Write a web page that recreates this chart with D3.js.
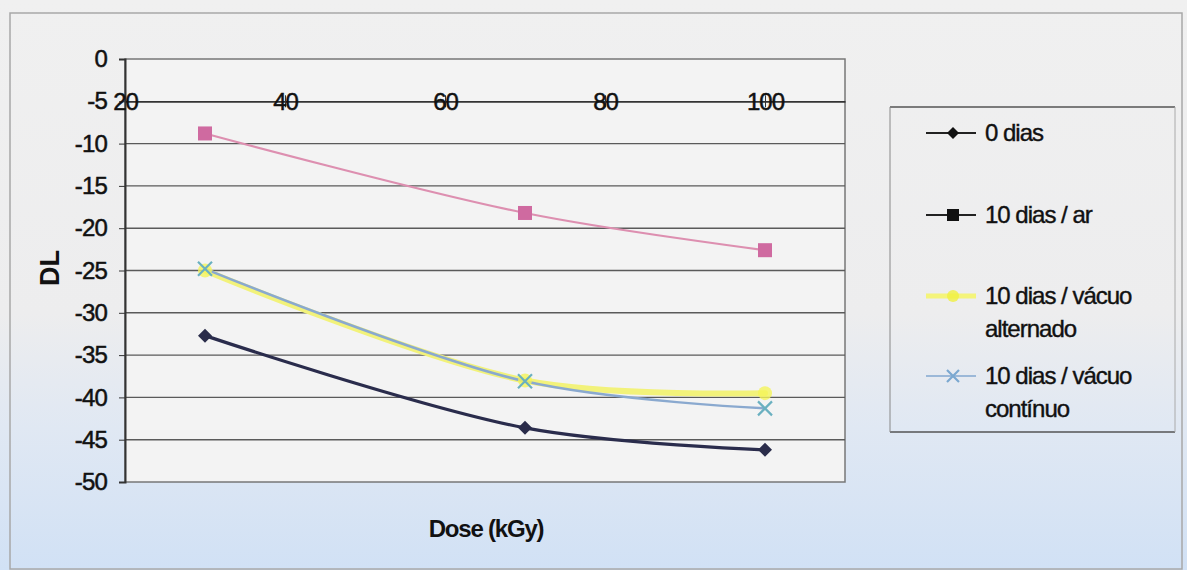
<!DOCTYPE html>
<html><head><meta charset="utf-8">
<script src="https://cdn.jsdelivr.net/npm/d3@7"></script>
<style>html,body{margin:0;padding:0;background:#efefef;}svg{display:block;font-family:"Liberation Sans",Arial,sans-serif;}</style>
</head><body>
<svg id="c" width="1187" height="570"></svg>
<script>
const doses = [30, 70, 100];
const dias0 = [-32.7, -43.6, -46.2];
const diasAr = [-8.8, -18.2, -22.6];
const vacuoAlternado = [-25.0, -38.0, -39.5];
const vacuoContinuo = [-24.8, -38.1, -41.3];
const seriesNames = ["0 dias", "10 dias / ar", "10 dias / vácuo alternado", "10 dias / vácuo contínuo"];
const xTicks = [20, 40, 60, 80, 100];
const yTicks = [0, -5, -10, -15, -20, -25, -30, -35, -40, -45, -50];

const svg = d3.select("#c");
const defs = svg.append("defs");
const g1 = defs.append("linearGradient").attr("id","bg").attr("x1",0).attr("y1",0).attr("x2",0).attr("y2",1);
g1.append("stop").attr("offset","0%").attr("stop-color","#f0f0f0");
g1.append("stop").attr("offset","55%").attr("stop-color","#ededee");
g1.append("stop").attr("offset","75%").attr("stop-color","#e0e8f3");
g1.append("stop").attr("offset","100%").attr("stop-color","#d1e1f5");
svg.append("rect").attr("width",1187).attr("height",570).attr("fill","url(#bg)");
svg.append("rect").attr("x",10).attr("y",13).attr("width",1172).attr("height",556)
  .attr("fill","none").attr("stroke","#a8a8a8").attr("stroke-width",1.5);

const x = d3.scaleLinear().domain([20, 110]).range([125, 845]);
const y = d3.scaleLinear().domain([-50, 0]).range([482, 59]);
const fmt = d => String(d);

// plot area
svg.append("rect").attr("x",x(20)).attr("y",y(0)).attr("width",x(110)-x(20)).attr("height",y(-50)-y(0))
  .attr("fill","#f3f3f3").attr("stroke","#777").attr("stroke-width",1.5);

// gridlines
svg.append("g").selectAll("line").data(yTicks.filter(v=>v!==0 && v!==-50 && v!==-5)).join("line")
  .attr("x1",x(20)).attr("x2",x(110)).attr("y1",d=>y(d)).attr("y2",d=>y(d))
  .attr("stroke","#5a5a5a").attr("stroke-width",1.4);

// y axis
const yAxis = d3.axisLeft(y).tickValues(yTicks).tickFormat(fmt).tickSize(6).tickPadding(12);
const ya = svg.append("g").attr("transform",`translate(${x(20)},0)`).call(yAxis);
ya.select(".domain").attr("stroke","#333").attr("stroke-width",2);
ya.selectAll(".tick line").attr("stroke","#333");
ya.selectAll(".tick text").attr("font-size",24).attr("fill","#111").attr("letter-spacing","-0.8")
  .attr("stroke","#111").attr("stroke-width",0.5)
  .attr("font-family","'Liberation Sans',Arial,sans-serif");

// x axis at y=-5
const xAxis = d3.axisBottom(x).tickValues(xTicks).tickFormat(fmt).tickSize(6).tickSizeOuter(0);
const xa = svg.append("g").attr("transform",`translate(0,${y(-5)})`).call(xAxis);
xa.select(".domain").attr("stroke","#333").attr("stroke-width",1.8);
xa.selectAll(".tick line").attr("stroke","#333").attr("y1",-6).attr("y2",6);
xa.selectAll(".tick text").attr("font-size",24).attr("fill","#111").attr("letter-spacing","-1")
  .attr("stroke","#111").attr("stroke-width",0.5)
  .attr("font-family","'Liberation Sans',Arial,sans-serif")
  .attr("y",0).attr("dy","0.35em");

// axis titles
svg.append("text").attr("transform",`translate(59,268) rotate(-90)`).attr("text-anchor","middle")
  .attr("font-size",27).attr("font-weight","bold").attr("fill","#111").text("DL");
svg.append("text").attr("x",486).attr("y",537).attr("text-anchor","middle")
  .attr("font-size",24).attr("font-weight","bold").attr("letter-spacing","-1.2").attr("fill","#111").text("Dose (kGy)");

const series = [
  {name: seriesNames[0], vals: dias0, line:"#2a2c4c", w:3.2, marker:"diamond", mfill:"#2a2c4a", lline:"#222", lmark:"#111"},
  {name: seriesNames[1], vals: diasAr, line:"#dd8fb0", w:2.2, marker:"square", mfill:"#cf6aa0", lline:"#222", lmark:"#111"},
  {name: seriesNames[2], vals: vacuoAlternado, line:"#f2f27a", w:6, marker:"circle", mfill:"#f4f45a", lline:"#f4f47a", lmark:"#f0f040"},
  {name: seriesNames[3], vals: vacuoContinuo, line:"#8aa9cf", w:2.5, marker:"x", mfill:"#6ab0c0", lline:"#9bb8d8", lmark:"#7aa8d0"}
];
const drawOrder = [2, 3, 1, 0];
const lineGen = d3.line().x((d,i)=>x(doses[i])).y(d=>y(d)).curve(d3.curveCatmullRom.alpha(0.5));

function marker(g, type, cx, cy, color, s) {
  if (type === "diamond") {
    g.append("path").attr("d",`M${cx},${cy-s}L${cx+s},${cy}L${cx},${cy+s}L${cx-s},${cy}Z`).attr("fill",color);
  } else if (type === "square") {
    g.append("rect").attr("x",cx-s).attr("y",cy-s).attr("width",2*s).attr("height",2*s).attr("fill",color);
  } else if (type === "circle") {
    g.append("circle").attr("cx",cx).attr("cy",cy).attr("r",s).attr("fill",color).attr("opacity",0.8);
  } else if (type === "x") {
    g.append("path").attr("d",`M${cx-s},${cy-s}L${cx+s},${cy+s}M${cx-s},${cy+s}L${cx+s},${cy-s}`)
      .attr("stroke",color).attr("stroke-width",2.2).attr("fill","none");
  }
}

drawOrder.forEach(i => {
  const s = series[i];
  svg.append("path").datum(s.vals).attr("d",lineGen).attr("fill","none")
    .attr("stroke",s.line).attr("stroke-width",s.w).attr("stroke-linecap","round");
});
drawOrder.forEach(i => {
  const s = series[i];
  const mg = svg.append("g");
  s.vals.forEach((v,j) => marker(mg, s.marker, x(doses[j]), y(v), s.mfill, 7));
});

// legend
const lg = svg.append("g");
lg.append("line").attr("x1",890).attr("x2",1175).attr("y1",107).attr("y2",107).attr("stroke","#555").attr("stroke-width",1.5);
lg.append("line").attr("x1",890).attr("x2",1175).attr("y1",432).attr("y2",432).attr("stroke","#555").attr("stroke-width",1.5);
lg.append("line").attr("x1",890).attr("x2",890).attr("y1",107).attr("y2",432).attr("stroke","#888").attr("stroke-width",1);
lg.append("line").attr("x1",1175).attr("x2",1175).attr("y1",107).attr("y2",432).attr("stroke","#aaa").attr("stroke-width",1);
const legY = [133, 215, 296, 376];
const legLines = [["0 dias"], ["10 dias / ar"], ["10 dias / vácuo", "alternado"], ["10 dias / vácuo", "contínuo"]];
series.forEach((s,i) => {
  const yy = legY[i];
  lg.append("line").attr("x1",926).attr("x2",976).attr("y1",yy).attr("y2",yy)
    .attr("stroke",s.lline).attr("stroke-width", i===2?5:2);
  marker(lg, s.marker, 953, yy, s.lmark, 6);
  const t = lg.append("text").attr("x",985).attr("y",yy).attr("font-size",24).attr("fill","#111")
    .attr("stroke","#111").attr("stroke-width",0.4).attr("letter-spacing","-1");
  legLines[i].forEach((ln,k) => t.append("tspan").attr("x",985).attr("dy", k===0?"0.35em":"1.35em").text(ln));
});
</script>
</body></html>
